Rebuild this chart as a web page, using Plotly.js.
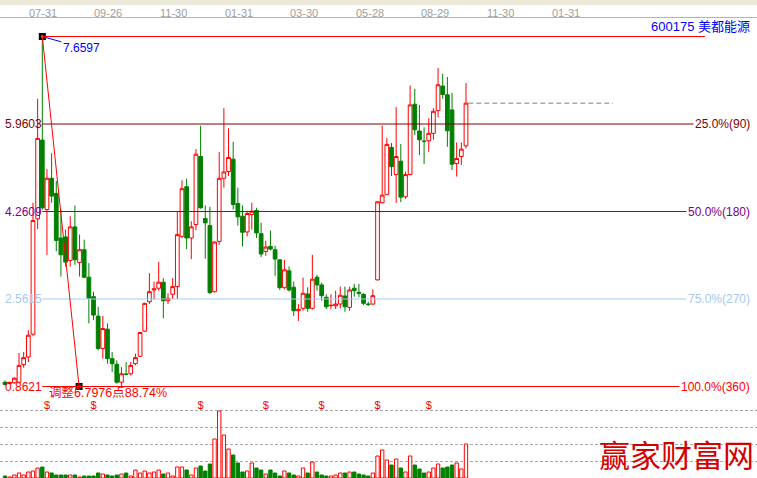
<!DOCTYPE html>
<html>
<head>
<meta charset="utf-8">
<script src="https://cdn.plot.ly/plotly-3.0.1.min.js"></script>
<style>
  html, body { margin: 0; padding: 0; background: #ffffff; overflow: hidden; }
  #chart { width: 757px; height: 478px; }
</style>
</head>
<body>
<div id="chart"></div>
<script>
// ---- price bars (one entry per bar, oldest first) ----
const open  = [0.946,0.920,0.934,0.946,1.286,1.435,1.878,4.118,5.648,4.300,
               4.906,4.613,3.747,3.767,3.310,3.962,3.271,3.519,2.985,2.607,
               2.229,1.599,1.976,1.403,1.292,0.946,1.106,1.110,1.306,1.448,
               1.937,2.509,2.737,2.771,2.888,2.528,2.653,2.802,3.778,4.743,
               3.747,4.007,5.329,4.124,3.987,2.704,3.681,4.906,5.037,5.277,
               4.417,4.169,3.864,4.202,4.281,3.831,3.485,3.583,3.519,3.323,
               2.782,3.108,2.790,2.333,2.380,2.659,2.380,2.985,2.835,2.595,
               2.432,2.430,2.464,2.620,2.399,2.771,2.692,2.653,2.464,2.464,
               2.933,4.431,4.587,5.505,4.978,5.238,4.548,4.978,6.345,5.824,
               5.628,5.634,5.779,6.220,6.697,6.527,6.234,5.193,5.329,5.536];
const high  = [0.979,0.960,1.044,1.513,1.532,1.956,4.431,6.449,7.6597,5.081,
               5.394,4.853,4.300,3.909,4.169,4.378,3.812,3.714,3.259,2.704,
               2.411,2.229,2.087,1.532,1.370,1.239,1.337,1.337,1.501,1.917,
               2.489,3.063,2.899,3.278,2.966,2.673,2.966,4.267,4.866,4.900,
               4.071,5.472,5.927,4.378,4.353,3.680,5.419,6.267,5.876,5.614,
               4.724,4.378,4.267,4.431,4.333,4.040,3.695,3.890,3.597,3.330,
               3.323,3.192,2.899,2.464,2.977,2.790,3.421,3.030,2.880,2.653,
               2.653,2.723,2.802,2.802,2.802,2.855,2.855,2.673,2.509,2.751,
               4.450,5.927,5.687,5.589,6.287,5.570,5.037,6.708,6.644,6.331,
               5.896,6.072,6.267,7.048,6.937,6.872,6.566,5.603,5.603,6.755];
const low   = [0.881,0.900,0.915,0.927,1.227,1.337,1.839,3.923,4.300,3.421,
               4.431,3.485,2.997,3.192,3.192,3.226,2.997,2.966,2.087,2.151,
               1.565,1.403,1.306,1.142,0.915,0.8621,1.077,1.077,1.272,1.435,
               1.923,2.464,2.556,2.723,2.185,2.464,2.561,2.561,3.747,3.532,
               3.337,3.896,4.314,3.343,2.660,2.690,3.616,4.724,4.950,4.300,
               3.987,3.583,3.778,3.909,3.747,3.376,3.401,3.505,3.011,2.737,
               2.750,2.704,2.229,2.137,2.333,2.314,2.360,2.723,2.528,2.366,
               2.360,2.366,2.380,2.314,2.333,2.607,2.595,2.444,2.425,2.444,
               2.919,4.417,4.587,4.950,4.431,4.442,4.509,4.964,5.745,5.355,
               5.185,5.419,5.654,6.091,6.449,5.517,5.068,4.939,5.165,5.486];
const close = [0.901,0.940,1.024,1.272,1.423,1.858,4.085,5.681,4.333,4.906,
               4.560,3.700,3.421,3.278,3.962,3.323,3.519,2.985,2.575,2.249,
               1.599,1.989,1.403,1.306,0.946,1.110,1.096,1.272,1.423,1.911,
               2.477,2.704,2.757,2.888,2.528,2.575,2.802,3.812,4.704,3.747,
               3.962,5.374,4.333,4.040,2.685,3.669,4.906,5.029,5.310,4.397,
               4.157,3.857,4.222,4.267,3.845,3.435,3.571,3.532,3.337,2.782,
               3.128,2.737,2.333,2.360,2.673,2.380,2.946,2.835,2.626,2.411,
               2.438,2.464,2.634,2.411,2.737,2.723,2.673,2.477,2.454,2.626,
               4.450,4.579,5.564,5.134,5.329,4.540,4.978,6.331,5.849,5.654,
               5.622,5.779,6.208,6.722,6.533,5.830,5.179,5.290,5.472,6.365];
// ---- traded volume per bar (10k lots) ----
const volume = [2,1,3,5,3,6,7,10,11,6,
                5,3,3,3,3,3,1,2,2,2,
                5,4,3,2,3,4,5,2,8,5,
                7,5,6,8,4,5,2,11,11,8,
                3,10,12,7,14,39,67,43,29,23,
                15,6,7,15,10,8,4,8,5,2,
                7,5,3,2,10,5,16,6,3,2,
                2,3,5,5,6,6,4,3,2,5,
                22,28,18,13,19,10,6,22,13,9,
                5,6,10,14,10,11,13,15,9,34];
// bars carrying an ex-rights / dividend flag
const eventBars = [9, 19, 42, 56, 68, 80, 91];
// time-axis labels along the top strip
const dateLabels = ['07-31','09-26','11-30','01-31','03-30','05-28','08-29','11-30','01-31'];
const stockTitle = '600175 美都能源';
const watermark = '赢家财富网';

// ---- percentage / gann retracement tool ----
const peakIdx = 8;            // bar of the swing high
const anchorLowIdx = 15.9;    // where the tool's low anchor was dropped
const swingHigh = Math.max(...high);
const swingLow = Math.min(...low);
const levelPct = [0.25, 0.50, 0.75, 1.00];
const levelDeg = [90, 180, 270, 360];
const levelColor = ['#800000', '#800080', '#a6caf0', '#ff0000'];

// ---- geometry of the canvas ----
const W = 757, H = 478;
const BAR0 = 5.05, PITCH = 4.656;                // px centre of first bar, px per bar
const VOL_PX = 85;                               // height of the volume pane
const PRICE_PX_TOP = 36.5, PRICE_PX_LOW = 386.5; // rows of the swing high / low
const upp = (swingHigh - swingLow) / (PRICE_PX_LOW - PRICE_PX_TOP);
const yTop = swingHigh + PRICE_PX_TOP * upp;
const yBot = swingLow - (H - VOL_PX - PRICE_PX_LOW) * upp;
const xr = [-BAR0 / PITCH, (W - BAR0) / PITCH];

const idx = open.map((_, i) => i);
const isUp = idx.map(i => close[i] >= open[i]);
const span = swingHigh - swingLow;
const levels = levelPct.map(p => swingHigh - p * span);
const lastClose = close[close.length - 1];

const RED = '#ff0000', GREEN = '#008000';
const NUMFONT = 'Liberation Sans, Arial, sans-serif';
const CJKFONT = 'Liberation Sans, Noto Sans CJK SC, sans-serif';

const traces = [];

traces.push({
  type: 'candlestick', x: idx, open: open, high: high, low: low, close: close,
  xaxis: 'x', yaxis: 'y', whiskerwidth: 0, hoverinfo: 'skip', showlegend: false,
  increasing: { line: { color: RED, width: 1 }, fillcolor: '#ffffff' },
  decreasing: { line: { color: GREEN, width: 1 }, fillcolor: GREEN }
});

traces.push({
  type: 'bar', x: idx, y: volume, xaxis: 'x', yaxis: 'y2', width: 0.72,
  hoverinfo: 'skip', showlegend: false,
  marker: {
    color: isUp.map(u => u ? '#ffffff' : GREEN),
    line: { color: isUp.map(u => u ? RED : GREEN), width: 1 }
  }
});

traces.push({
  type: 'scatter', mode: 'text', x: eventBars, y: eventBars.map(() => 71.5),
  xaxis: 'x', yaxis: 'y2', text: eventBars.map(() => '$'),
  textfont: { family: NUMFONT, size: 11, color: RED },
  hoverinfo: 'skip', showlegend: false
});

// anchor handles of the retracement tool
traces.push({
  type: 'scatter', mode: 'markers', x: [peakIdx, anchorLowIdx], y: [swingHigh, swingLow],
  xaxis: 'x', yaxis: 'y', hoverinfo: 'skip', showlegend: false,
  marker: { symbol: 'square', size: 7, color: '#000000' }
});
traces.push({
  type: 'scatter', mode: 'markers', x: [peakIdx, anchorLowIdx], y: [swingHigh, swingLow],
  xaxis: 'x', yaxis: 'y', hoverinfo: 'skip', showlegend: false,
  marker: { symbol: ['circle', 'x-thin'], size: [2, 4], color: ['#ffff00', '#00ffff'],
            line: { color: ['#ffff00', '#00ffff'], width: 1 } }
});

const shapes = [];
// header strip
shapes.push({ type: 'rect', xref: 'paper', yref: 'paper', x0: 0, x1: 1,
  y0: (H - 5) / H, y1: 1, fillcolor: '#ece9d8', line: { width: 0 }, layer: 'below' });
shapes.push({ type: 'line', xref: 'paper', yref: 'paper', x0: 0, x1: 1,
  y0: (H - 17.5) / H, y1: (H - 17.5) / H, line: { color: '#b4b4b4', width: 1 } });
// swing-high line
shapes.push({ type: 'line', xref: 'x', yref: 'y', x0: peakIdx, x1: 150.3,
  y0: swingHigh, y1: swingHigh, line: { color: RED, width: 1 } });
// retracement levels
levels.forEach((v, k) => shapes.push({ type: 'line', xref: 'x', yref: 'y',
  x0: peakIdx, x1: 149, y0: v, y1: v, line: { color: levelColor[k], width: 1 } }));
// drawn leg from the high to the low anchor
shapes.push({ type: 'line', xref: 'x', yref: 'y', x0: peakIdx, y0: swingHigh,
  x1: anchorLowIdx, y1: swingLow, line: { color: RED, width: 1 } });
// last close extension
shapes.push({ type: 'line', xref: 'x', yref: 'y', x0: idx.length - 0.5, x1: 130.6,
  y0: lastClose, y1: lastClose, line: { color: '#808080', width: 1, dash: '5px,3px' } });

const ann = [];
levels.forEach((v, k) => {
  ann.push({ xref: 'paper', yref: 'y', x: 3 / W, y: v, xanchor: 'left', yanchor: 'middle',
    text: v.toFixed(4), showarrow: false, font: { family: NUMFONT, size: 12, color: levelColor[k] } });
  ann.push({ xref: 'paper', yref: 'y', x: 752 / W, y: v, xanchor: 'right', yanchor: 'middle',
    text: (levelPct[k] * 100).toFixed(1) + '%(' + levelDeg[k] + ')', showarrow: false,
    bgcolor: '#ffffff', borderpad: 1, font: { family: NUMFONT, size: 12, color: levelColor[k] } });
});
ann.push({ xref: 'x', yref: 'y', x: peakIdx, y: swingHigh, text: swingHigh.toFixed(4),
  showarrow: true, arrowhead: 0, arrowwidth: 1, arrowcolor: '#0000ff', ax: 39, ay: 11, standoff: 3,
  font: { family: NUMFONT, size: 12, color: '#0000ff' } });
ann.push({ xref: 'x', yref: 'y', x: peakIdx, y: swingLow, xanchor: 'left', yanchor: 'middle',
  xshift: 6, yshift: -5.5, showarrow: false, borderpad: 0,
  text: '调整' + span.toFixed(4) + '点' + (span / swingHigh * 100).toFixed(2) + '%',
  font: { family: CJKFONT, size: 12.5, color: RED } });
ann.push({ xref: 'paper', yref: 'paper', x: 752 / W, y: (H - 26.5) / H, xanchor: 'right',
  yanchor: 'middle', showarrow: false, text: stockTitle,
  font: { family: CJKFONT, size: 13, color: '#0000ff' } });
dateLabels.forEach((d, k) => ann.push({ xref: 'x', yref: 'paper', x: 8.15 + 14.03 * k,
  y: (H - 12.5) / H, yanchor: 'middle', showarrow: false, text: d,
  font: { family: NUMFONT, size: 11, color: '#a0a0a0' } }));
ann.push({ xref: 'paper', yref: 'paper', x: 676 / W, y: (H - 453) / H, xanchor: 'center',
  yanchor: 'middle', showarrow: false, text: watermark,
  font: { family: 'Noto Sans CJK SC, sans-serif', size: 31, color: '#d40000' } });

const layout = {
  width: W, height: H, margin: { l: 0, r: 0, t: 0, b: 0 },
  paper_bgcolor: '#ffffff', plot_bgcolor: 'rgba(0,0,0,0)', showlegend: false,
  boxgap: 0.2, boxgroupgap: 0,
  xaxis: { range: xr, visible: false, fixedrange: true, rangeslider: { visible: false } },
  yaxis: { domain: [VOL_PX / H, 1], range: [yBot, yTop], visible: false, fixedrange: true },
  yaxis2: { domain: [0, VOL_PX / H], range: [0, VOL_PX], anchor: 'x', fixedrange: true,
            showticklabels: false, ticks: '', zeroline: false, showline: false,
            tickvals: [17, 34, 51, 68], showgrid: true, gridcolor: '#a8a8a8',
            griddash: '3px,2px', gridwidth: 1 },
  shapes: shapes, annotations: ann
};

Plotly.newPlot('chart', traces, layout, { staticPlot: true, displayModeBar: false });
</script>
</body>
</html>
